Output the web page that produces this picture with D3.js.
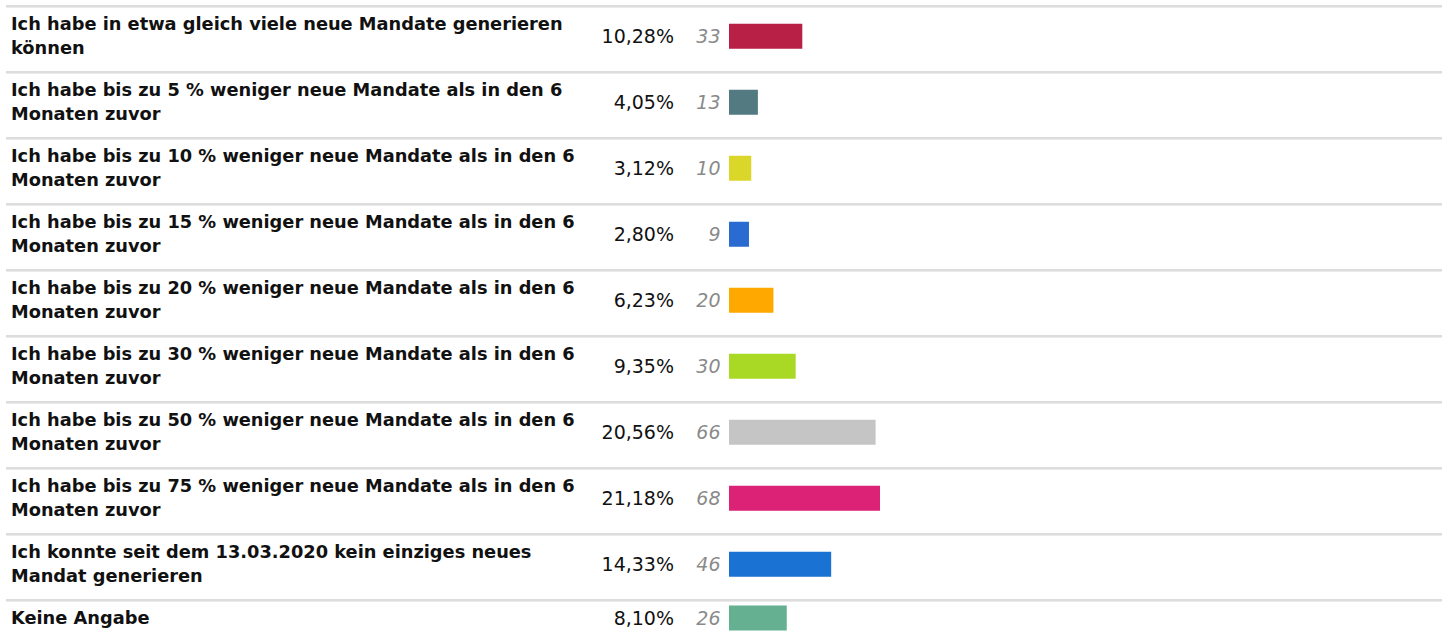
<!DOCTYPE html>
<html>
<head>
<meta charset="utf-8">
<script src="https://cdn.jsdelivr.net/npm/d3@7"></script>
<style>
  html, body { margin: 0; padding: 0; background: #fff; }
  svg { display: block; }
</style>
</head>
<body>
<svg id="chart" width="1442" height="638"></svg>
<script>
const categories = [
  "Ich habe in etwa gleich viele neue Mandate generieren können",
  "Ich habe bis zu 5 % weniger neue Mandate als in den 6 Monaten zuvor",
  "Ich habe bis zu 10 % weniger neue Mandate als in den 6 Monaten zuvor",
  "Ich habe bis zu 15 % weniger neue Mandate als in den 6 Monaten zuvor",
  "Ich habe bis zu 20 % weniger neue Mandate als in den 6 Monaten zuvor",
  "Ich habe bis zu 30 % weniger neue Mandate als in den 6 Monaten zuvor",
  "Ich habe bis zu 50 % weniger neue Mandate als in den 6 Monaten zuvor",
  "Ich habe bis zu 75 % weniger neue Mandate als in den 6 Monaten zuvor",
  "Ich konnte seit dem 13.03.2020 kein einziges neues Mandat generieren",
  "Keine Angabe"
];
const percentLabels = ["10,28%", "4,05%", "3,12%", "2,80%", "6,23%", "9,35%", "20,56%", "21,18%", "14,33%", "8,10%"];
const percents = [10.28, 4.05, 3.12, 2.80, 6.23, 9.35, 20.56, 21.18, 14.33, 8.10];
const counts = [33, 13, 10, 9, 20, 30, 66, 68, 46, 26];
const colors = ["#b82045", "#527a80", "#dbd72a", "#2a6bd1", "#ffa800", "#a9d924", "#c5c5c5", "#dc2277", "#1a73d2", "#65b091"];

const svg = d3.select("#chart");
const W = 1442;
const labelX = 11, labelMaxW = 582;
const labelFont = 17.8, numFont = 19;
const lineH = 24.5;
const x = d3.scaleLinear().domain([0, 100]).range([729, 1442]);

function wrap(text) {
  const words = text.split(" ");
  const tmp = svg.append("text").attr("font-family", "DejaVu Sans").attr("font-weight", "bold").attr("font-size", labelFont);
  const lines = [];
  let cur = "";
  for (const w of words) {
    const test = cur ? cur + " " + w : w;
    tmp.text(test);
    if (tmp.node().getComputedTextLength() > labelMaxW && cur) {
      lines.push(cur);
      cur = w;
    } else cur = test;
  }
  if (cur) lines.push(cur);
  tmp.remove();
  return lines;
}

const rows = categories.map((c, i) => ({ label: c, lines: wrap(c), pct: percents[i], pctLabel: percentLabels[i], count: counts[i], color: colors[i] }));
let yTop = 5;
rows.forEach(r => { r.top = yTop; yTop += r.lines.length * lineH + 17; });

const g = svg.selectAll("g.row").data(rows).join("g").attr("class", "row")
  .attr("transform", d => `translate(0,${d.top})`);

g.append("rect").attr("x", 6).attr("y", 0).attr("width", W - 6).attr("height", 2.6).attr("fill", "#dddddd");

g.each(function(d) {
  const sel = d3.select(this);
  const t = sel.append("text").attr("font-family", "DejaVu Sans").attr("font-weight", "bold").attr("font-size", labelFont).attr("fill", "#111");
  d.lines.forEach((ln, k) => {
    t.append("tspan").attr("x", labelX).attr("y", 24.5 + k * lineH).text(ln);
  });
  const center = 6 + d.lines.length * lineH / 2 + 0.75;
  sel.append("text").attr("x", 674).attr("y", center + 6.5).attr("text-anchor", "end")
    .attr("font-family", "DejaVu Sans").attr("font-size", numFont).attr("fill", "#111").text(d.pctLabel);
  sel.append("text").attr("x", 720.5).attr("y", center + 6.5).attr("text-anchor", "end")
    .attr("font-family", "DejaVu Sans").attr("font-style", "italic").attr("font-size", numFont).attr("fill", "#8a8a8a").text(d.count);
  sel.append("rect").attr("x", x(0)).attr("y", center - 12.5).attr("width", x(d.pct) - x(0)).attr("height", 25).attr("fill", d.color);
});
</script>
</body>
</html>
